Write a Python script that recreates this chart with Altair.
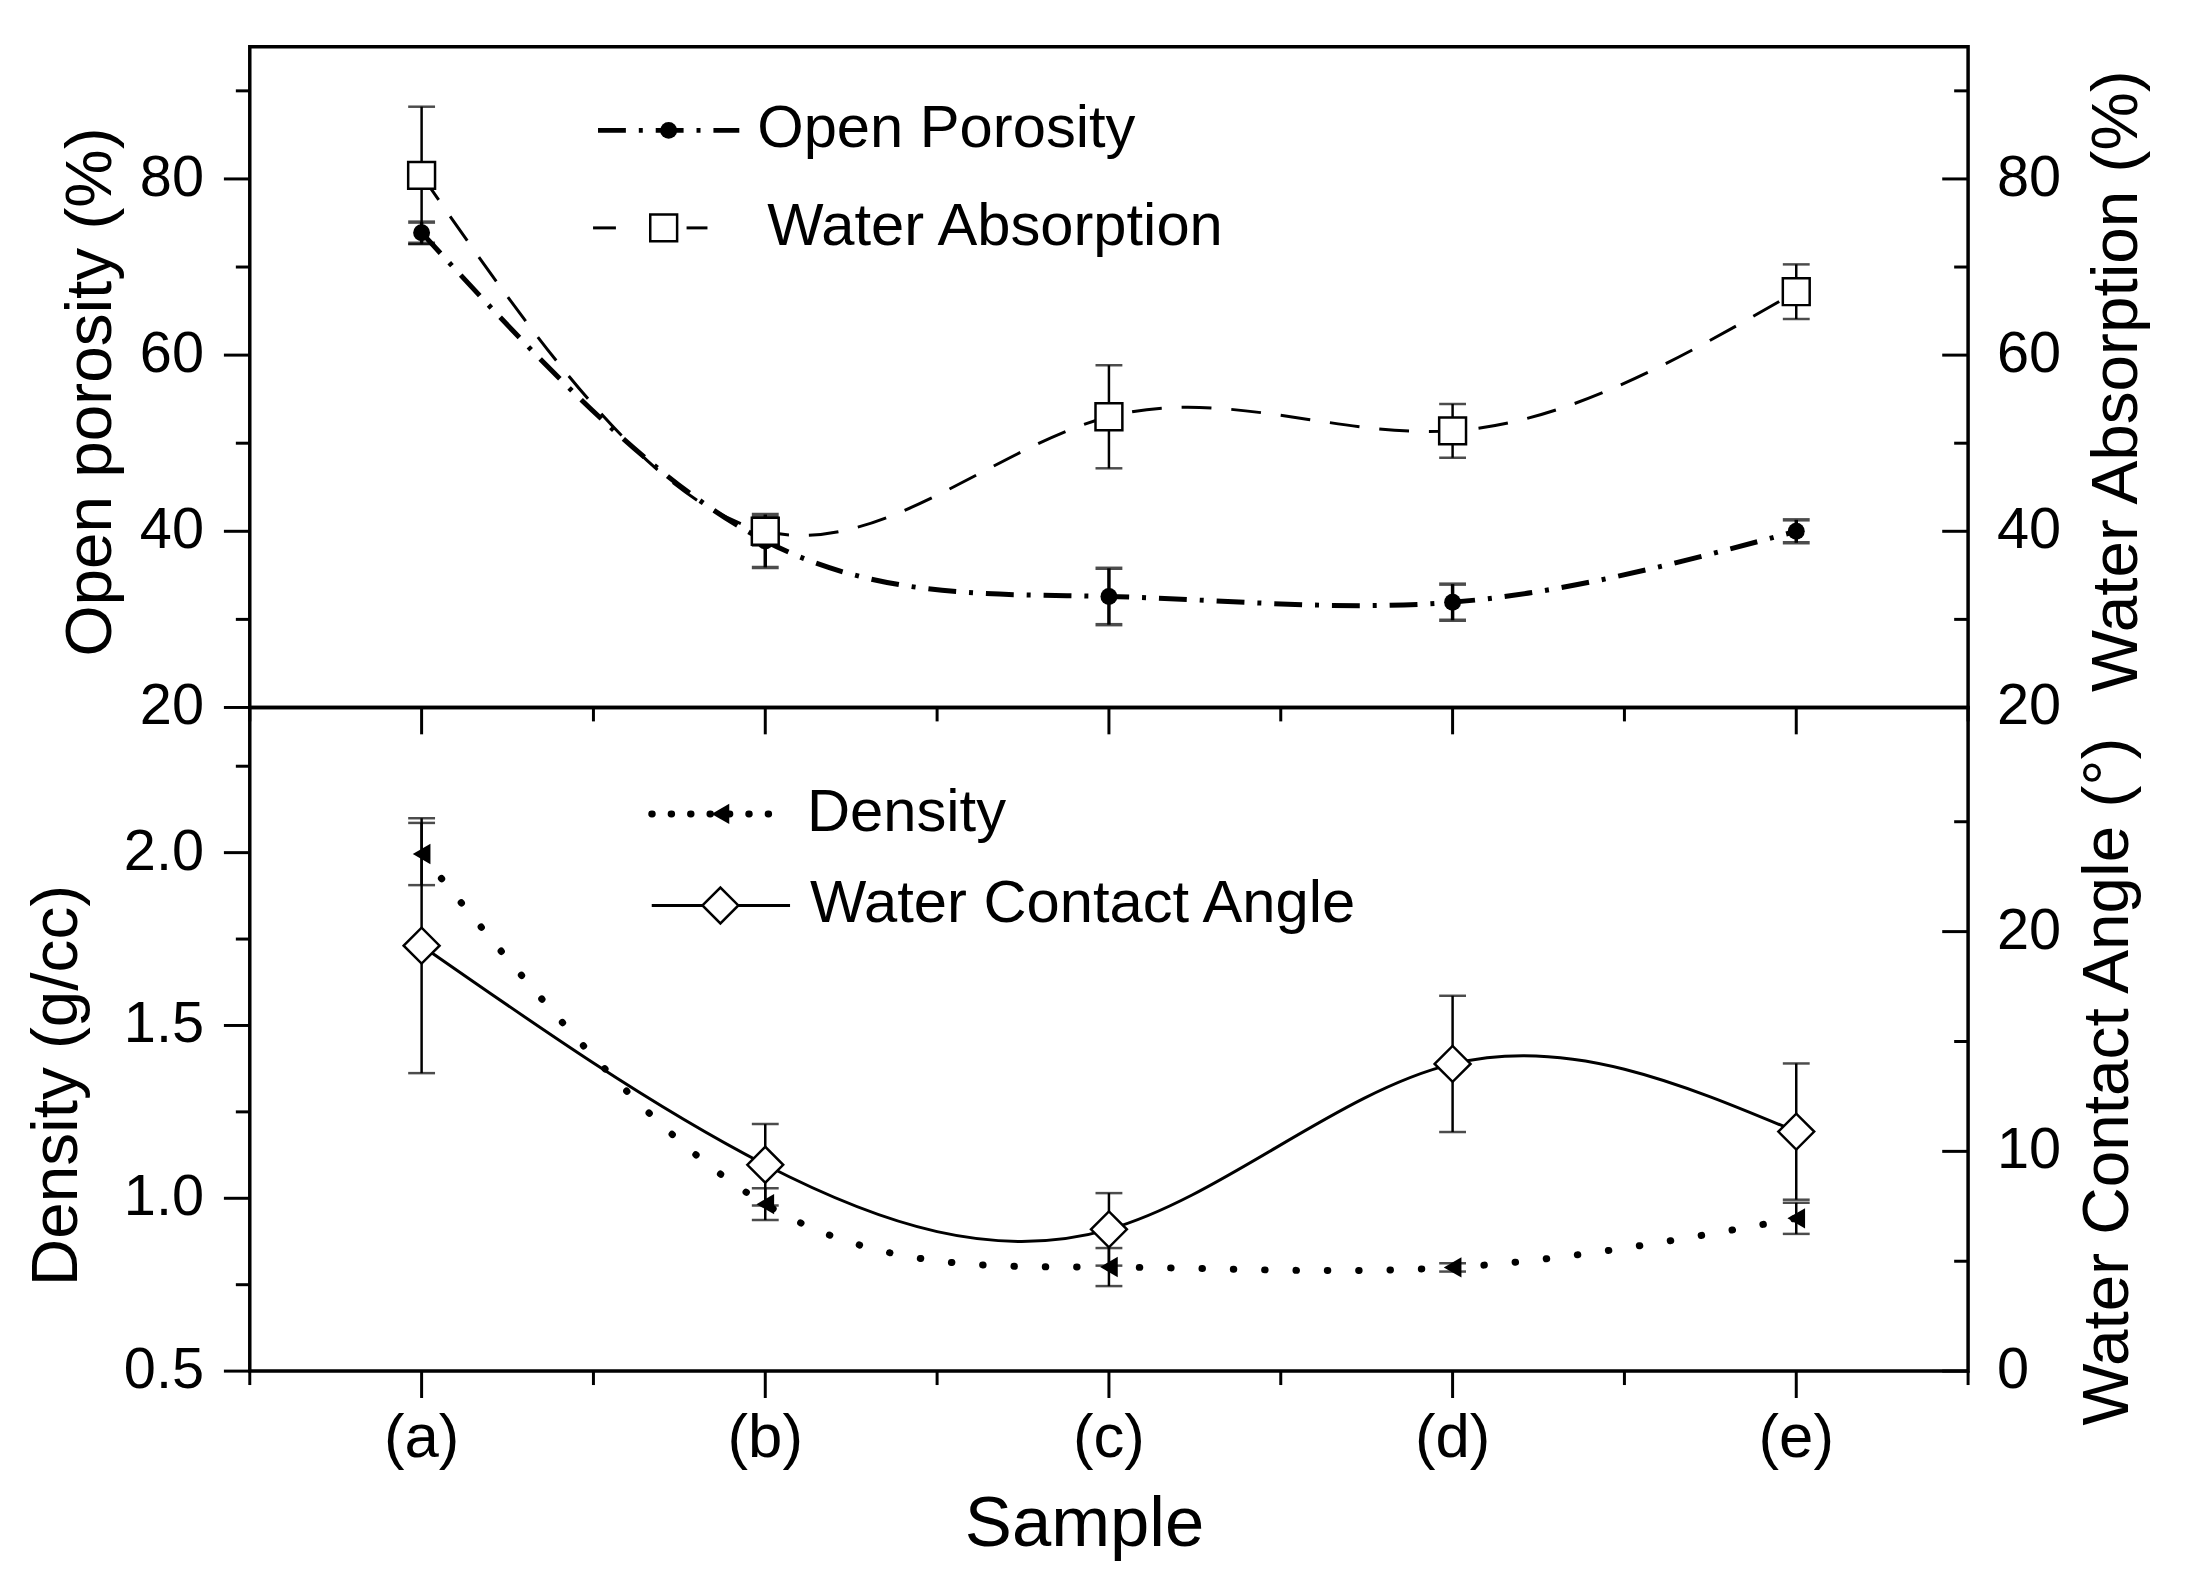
import altair as alt
import pandas as pd

# ---------------- data ----------------
categories = ["(a)", "(b)", "(c)", "(d)", "(e)"]
sample_index = [1, 2, 3, 4, 5]

open_porosity = [73.9, 38.9, 32.6, 31.95, 40.0]
open_porosity_err = [1.2, 3.0, 3.2, 2.05, 1.3]
water_absorption = [80.4, 40.0, 53.0, 51.4, 67.2]
water_absorption_err = [7.8, 1.6, 5.85, 3.05, 3.1]
density = [1.996, 0.983, 0.801, 0.800, 0.942]
density_err = [0.09, 0.046, 0.055, 0.012, 0.045]
contact_angle = [19.36, 9.39, 6.45, 13.98, 10.9]
contact_angle_err = [5.8, 1.85, 1.65, 3.1, 3.1]

x_major_ticks = [1, 2, 3, 4, 5]
x_minor_ticks = [0.5, 1.5, 2.5, 3.5, 4.5, 5.5]
top_major_ticks = [20, 40, 60, 80]
top_minor_ticks = [30, 50, 70, 90]
density_major_ticks = [0.5, 1.0, 1.5, 2.0]
density_minor_ticks = [0.75, 1.25, 1.75, 2.25]
angle_major_ticks = [0, 10, 20]
angle_minor_ticks = [5, 15, 25]

legend_top = ["Open Porosity", "Water Absorption"]
legend_bottom = ["Density", "Water Contact Angle"]
axis_titles = {
    "top_left": "Open porosity (%)",
    "top_right": "Water Absorption (%)",
    "bottom_left": "Density (g/cc)",
    "bottom_right": "Water Contact Angle (°)",
    "x": "Sample",
}

df = pd.DataFrame({
    "idx": sample_index,
    "cat": categories,
    "op": open_porosity, "op_err": open_porosity_err,
    "wa": water_absorption, "wa_err": water_absorption_err,
    "den": density, "den_err": density_err,
    "wca": contact_angle, "wca_err": contact_angle_err,
})
one = pd.DataFrame({"k": [0]})

W, H1, H2 = 1727, 664, 667
PAD_L, PAD_T, PAD_R, PAD_B = 241, 33, 214, 215
FONT = "Liberation Sans"
BLACK = "#000000"
MAJ, MIN, TW = 27, 14, 3

x_scale = alt.Scale(domain=[0.5, 5.5], nice=False, zero=False)


def x_enc():
    return alt.X("idx:Q", scale=x_scale, axis=None)


def tick_rules(values, y_scale, side, length):
    """Axis tick marks drawn through the panel's own scale."""
    d = pd.DataFrame({"v": values})
    c = alt.Chart(d).mark_rule(color=BLACK, strokeWidth=TW)
    if side == "left":
        return c.encode(y=alt.Y("v:Q", scale=y_scale, axis=None),
                        x=alt.value(-length), x2=alt.value(0))
    return c.encode(y=alt.Y("v:Q", scale=y_scale, axis=None),
                    x=alt.value(W - length), x2=alt.value(W))


def tick_labels(values, y_scale, side, fmt):
    d = pd.DataFrame({"v": values})
    if side == "left":
        mk = alt.Chart(d).mark_text(align="right", baseline="middle", font=FONT,
                                    fontSize=58, color=BLACK)
        xv = alt.value(-46)
    else:
        mk = alt.Chart(d).mark_text(align="left", baseline="middle", font=FONT,
                                    fontSize=58, color=BLACK)
        xv = alt.value(W + 29)
    return mk.encode(y=alt.Y("v:Q", scale=y_scale, axis=None), x=xv,
                     text=alt.Text("v:Q", format=fmt))


def x_tick_rules(values, h, length):
    d = pd.DataFrame({"v": values})
    return alt.Chart(d).mark_rule(color=BLACK, strokeWidth=TW).encode(
        x=alt.X("v:Q", scale=x_scale, axis=None), y=alt.value(h), y2=alt.value(h + length))


def x_labels():
    return alt.Chart(df).mark_text(align="center", baseline="top", font=FONT,
                                   fontSize=62, color=BLACK).encode(
        x=x_enc(), y=alt.value(H2 + 37), text="cat:N")


def title_text(x, y, txt, angle=270, size=66):
    return alt.Chart(one).mark_text(align="center", baseline="alphabetic", font=FONT,
                                    fontSize=size, color=BLACK, angle=angle).encode(
        x=alt.value(x), y=alt.value(y), text=alt.value(txt))


def guard(y):
    """Invisible full-width rule so that the page keeps room around the plot."""
    return alt.Chart(one).mark_rule(color="white", strokeOpacity=0, strokeWidth=1).encode(
        x=alt.value(-PAD_L), x2=alt.value(W + PAD_R), y=alt.value(y))


def series(field, err_field, y_scale, line_kw, point_kw, err_width, extra):
    base = alt.Chart(df).transform_calculate(
        lo="datum.%s - datum.%s" % (field, err_field),
        hi="datum.%s + datum.%s" % (field, err_field),
    )
    line = base.mark_line(interpolate="natural", color=BLACK, **line_kw).encode(
        x=x_enc(), y=alt.Y("%s:Q" % field, scale=y_scale, axis=None))
    rule = base.mark_rule(color=BLACK, strokeWidth=err_width).encode(
        x=x_enc(), y=alt.Y("lo:Q", scale=y_scale, axis=None), y2="hi:Q")
    cap_lo = base.mark_tick(color=BLACK, orient="horizontal", size=27, thickness=err_width).encode(
        x=x_enc(), y=alt.Y("lo:Q", scale=y_scale, axis=None))
    cap_hi = base.mark_tick(color=BLACK, orient="horizontal", size=27, thickness=err_width).encode(
        x=x_enc(), y=alt.Y("hi:Q", scale=y_scale, axis=None))
    pts = base.mark_point(opacity=1, **point_kw).encode(
        x=x_enc(), y=alt.Y("%s:Q" % field, scale=y_scale, axis=None))
    return alt.layer(line, rule, cap_lo, cap_hi, pts, *extra)


def hrule(x1, x2, y, **kw):
    return alt.Chart(one).mark_rule(color=BLACK, **kw).encode(
        x=alt.value(x1), x2=alt.value(x2), y=alt.value(y))


def symbol(x, y, **kw):
    return alt.Chart(one).mark_point(opacity=1, **kw).encode(x=alt.value(x), y=alt.value(y))


def label(x, y, txt):
    return alt.Chart(one).mark_text(align="left", baseline="middle", font=FONT,
                                    fontSize=60, color=BLACK).encode(
        x=alt.value(x), y=alt.value(y), text=alt.value(txt))


# ---------------- top panel ----------------
top_scale = alt.Scale(domain=[20, 95], nice=False, zero=False)

op_layer = series("op", "op_err", top_scale,
                  dict(strokeWidth=5, strokeDash=[28, 13, 4, 13]),
                  dict(shape="circle", filled=True, color=BLACK, size=290), 3.5,
                  [tick_rules(top_major_ticks, top_scale, "left", 26),
                   tick_rules(top_minor_ticks, top_scale, "left", MIN),
                   tick_labels(top_major_ticks, top_scale, "left", "d"),
                   x_tick_rules(x_major_ticks, H1, MAJ),
                   x_tick_rules(x_minor_ticks, H1, MIN)])
wa_layer = series("wa", "wa_err", top_scale,
                  dict(strokeWidth=3, strokeDash=[30, 20]),
                  dict(shape="square", filled=True, fill="white", stroke=BLACK,
                       strokeWidth=2.5, size=729), 2.5,
                  [tick_rules(top_major_ticks, top_scale, "right", 26),
                   tick_rules(top_minor_ticks, top_scale, "right", MIN),
                   tick_labels(top_major_ticks, top_scale, "right", "d")])

top_decor = alt.layer(
    hrule(350, 492, 84, strokeWidth=5, strokeDash=[28, 13, 4, 13]),
    symbol(421, 84, shape="circle", filled=True, color=BLACK, size=290),
    label(510, 83, legend_top[0]),
    hrule(345, 368, 182, strokeWidth=3),
    hrule(439, 460, 182, strokeWidth=3),
    symbol(416, 182, shape="square", filled=True, fill="white", stroke=BLACK,
           strokeWidth=2.5, size=729),
    label(520, 181, legend_top[1]),
    title_text(-139, 347, axis_titles["top_left"]),
    title_text(W + 170, 336, axis_titles["top_right"]),
    guard(-PAD_T),
)

top = alt.layer(op_layer, wa_layer, top_decor).resolve_scale(y="independent").properties(
    width=W, height=H1)

# ---------------- bottom panel ----------------
den_scale = alt.Scale(domain=[0.5, 2.42], nice=False, zero=False)
ang_scale = alt.Scale(domain=[0, 30.2], nice=False, zero=False)

den_layer = series("den", "den_err", den_scale,
                   dict(strokeWidth=7, strokeDash=[0.5, 31], strokeCap="round"),
                   dict(shape="triangle-left", filled=True, color=BLACK, size=420), 2.5,
                   [tick_rules(density_major_ticks, den_scale, "left", 26),
                    tick_rules(density_minor_ticks, den_scale, "left", MIN),
                    tick_labels(density_major_ticks, den_scale, "left", ".1f"),
                    x_tick_rules(x_major_ticks, H2, MAJ),
                    x_tick_rules(x_minor_ticks, H2, MIN),
                    x_labels()])
wca_layer = series("wca", "wca_err", ang_scale,
                   dict(strokeWidth=3),
                   dict(shape="diamond", filled=True, fill="white", stroke=BLACK,
                        strokeWidth=2.5, size=1300), 2.5,
                   [tick_rules(angle_major_ticks, ang_scale, "right", 26),
                    tick_rules(angle_minor_ticks, ang_scale, "right", MIN),
                    tick_labels(angle_major_ticks, ang_scale, "right", "d")])

bottom_decor = alt.layer(
    hrule(404, 540, 107, strokeWidth=7, strokeDash=[0.5, 19], strokeCap="round"),
    symbol(473, 107, shape="triangle-left", filled=True, color=BLACK, size=420),
    label(560, 106, legend_bottom[0]),
    hrule(404, 543, 199, strokeWidth=3),
    symbol(473, 199, shape="diamond", filled=True, fill="white", stroke=BLACK,
           strokeWidth=2.5, size=1300),
    label(563, 198, legend_bottom[1]),
    title_text(-174, 380, axis_titles["bottom_left"]),
    title_text(W + 161, 376, axis_titles["bottom_right"]),
    title_text(839, 843, axis_titles["x"], angle=0, size=71),
    guard(H2 + PAD_B),
)

bottom = alt.layer(den_layer, wca_layer, bottom_decor).resolve_scale(y="independent").properties(
    width=W, height=H2)

chart = alt.vconcat(top, bottom, spacing=0, bounds="flush").properties(
    padding=0,
    background="white",
).configure_view(stroke=BLACK, strokeWidth=3.5)

chart.save("out.html", embed_options={"renderer": "svg", "actions": False})
